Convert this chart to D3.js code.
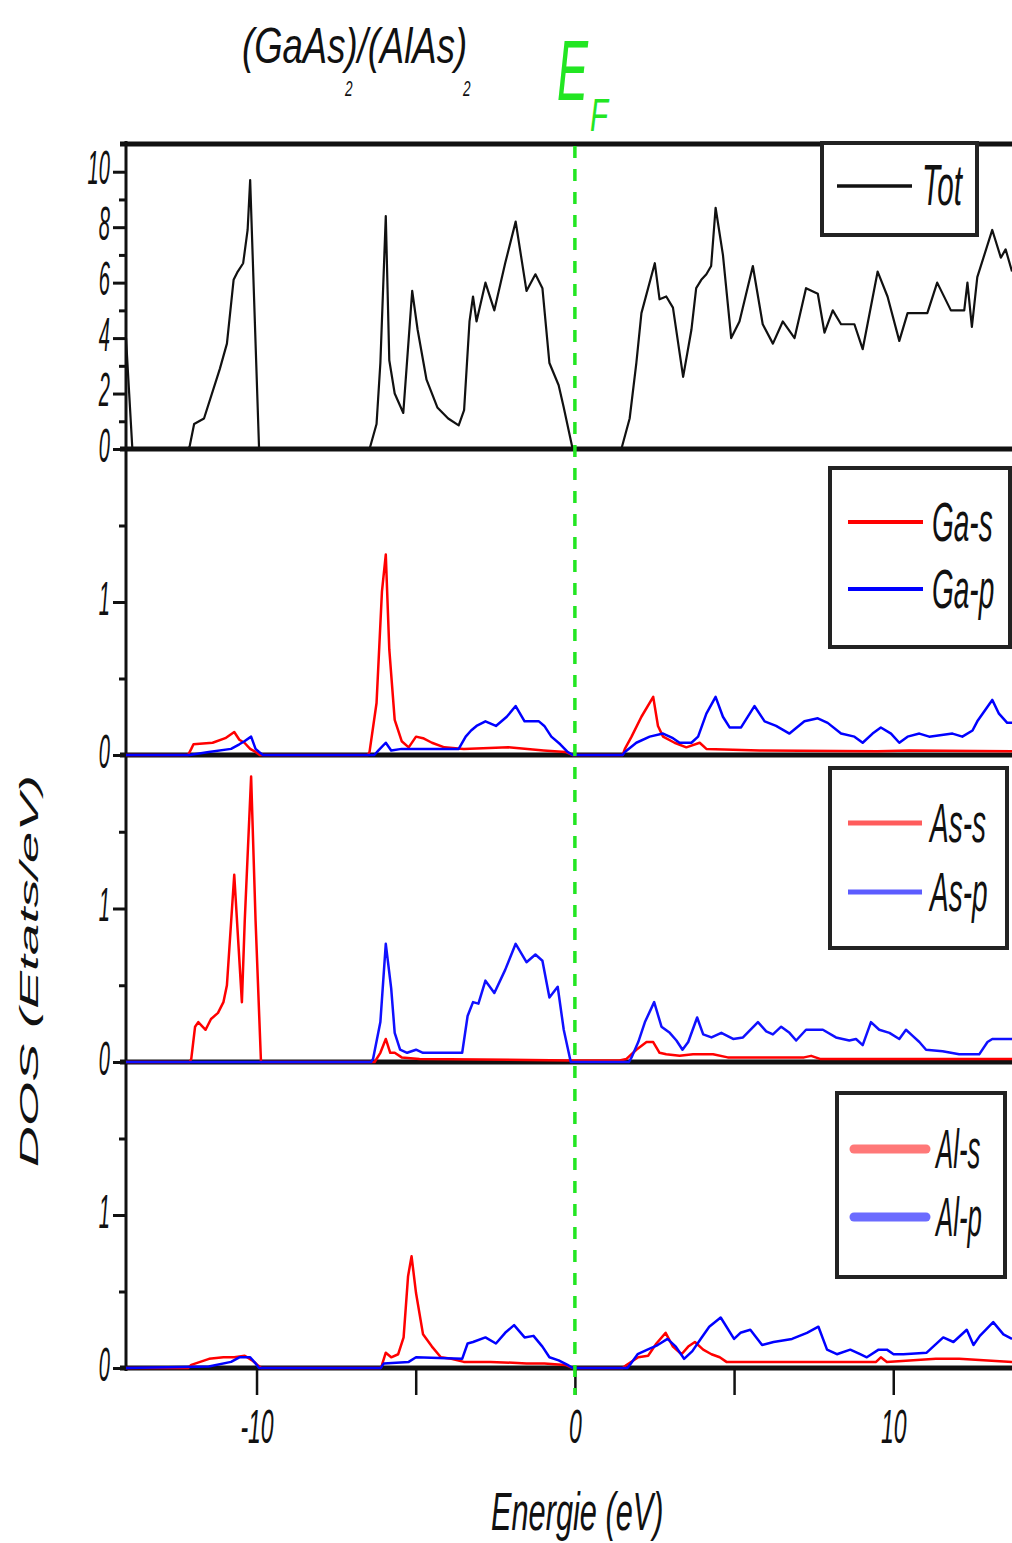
<!DOCTYPE html>
<html>
<head>
<meta charset="utf-8">
<script src="https://cdn.jsdelivr.net/npm/d3@7"></script>
<style>
  body { margin: 0; background: #fff; }
  svg { display: block; }
  text { font-family: "Liberation Sans", Arial, sans-serif; font-style: italic; fill: #111; }
</style>
</head>
<body>
<svg id="chart" width="1012" height="1543"></svg>
<script>
// ---- data: [energy (eV), DOS] ----
var totDOS = [[-14.1,4.0],[-14.0,2.0],[-13.9,0],[-12.15,0],[-12.1,0.1],[-11.96,0.9],[-11.65,1.1],[-11.15,2.9],[-10.93,3.8],[-10.72,6.1],[-10.59,6.4],[-10.42,6.7],[-10.28,7.9],[-10.2,9.7],[-10.03,3.8],[-9.92,0],
  [-6.45,0],[-6.23,0.9],[-6.11,3.1],[-5.94,8.4],[-5.83,3.2],[-5.66,2.0],[-5.39,1.3],[-5.11,5.7],[-4.94,4.3],[-4.66,2.5],[-4.32,1.5],[-3.98,1.1],[-3.65,0.85],[-3.48,1.4],[-3.31,4.6],[-3.2,5.5],[-3.09,4.6],[-2.81,6.0],[-2.53,5.0],[-2.19,6.7],[-1.86,8.2],[-1.52,5.7],[-1.24,6.3],[-1.02,5.8],[-0.8,3.1],[-0.51,2.3],[-0.35,1.5],[-0.07,0],
  [1.46,0],[1.72,1.1],[1.93,3.1],[2.09,4.9],[2.51,6.7],[2.66,5.4],[2.87,5.5],[3.08,5.1],[3.4,2.6],[3.66,4.3],[3.81,5.8],[3.97,6.1],[4.13,6.3],[4.28,6.6],[4.42,8.7],[4.65,7.0],[4.91,4.0],[5.17,4.6],[5.59,6.6],[5.9,4.5],[6.22,3.8],[6.53,4.6],[6.9,4.0],[7.26,5.8],[7.63,5.6],[7.84,4.2],[8.1,5.0],[8.36,4.5],[8.78,4.5],[9.04,3.6],[9.51,6.4],[9.82,5.5],[10.19,3.9],[10.45,4.9],[11.07,4.9],[11.38,6.0],[11.81,5.0],[12.23,5.0],[12.33,6.0],[12.47,4.4],[12.64,6.2],[13.11,7.9],[13.38,6.9],[13.53,7.2],[13.73,6.4]];

var gaS = [[-14.1,0],[-12.15,0],[-12.05,0.04],[-11.98,0.07],[-11.38,0.08],[-10.98,0.11],[-10.7,0.15],[-10.54,0.1],[-10.38,0.08],[-10.2,0.04],[-10.03,0.02],[-9.9,0],
  [-6.5,0],[-6.45,0.02],[-6.23,0.34],[-6.06,1.07],[-5.94,1.31],[-5.83,0.69],[-5.66,0.23],[-5.44,0.09],[-5.22,0.05],[-4.99,0.12],[-4.77,0.11],[-4.49,0.08],[-4.1,0.05],[-3.49,0.04],[-2.09,0.05],[-0.98,0.03],[-0.3,0.02],[-0.07,0],
  [1.5,0],[1.57,0.04],[1.78,0.12],[2.09,0.25],[2.46,0.38],[2.61,0.19],[2.77,0.12],[3.13,0.08],[3.5,0.05],[3.92,0.08],[4.13,0.04],[5.8,0.03],[9.5,0.025],[10.5,0.03],[13.73,0.025]];

var gaP = [[-14.1,0],[-12.1,0],[-11.5,0.02],[-10.8,0.04],[-10.54,0.07],[-10.38,0.09],[-10.17,0.12],[-10.03,0.04],[-9.92,0.02],[-9.8,0],
  [-6.3,0],[-6.17,0.03],[-5.94,0.08],[-5.77,0.03],[-5.44,0.04],[-5.05,0.04],[-3.65,0.04],[-3.43,0.12],[-3.26,0.16],[-3.09,0.19],[-2.81,0.22],[-2.48,0.19],[-2.14,0.25],[-1.86,0.32],[-1.58,0.22],[-1.13,0.22],[-0.96,0.19],[-0.74,0.12],[-0.46,0.07],[-0.23,0.02],[-0.07,0],
  [1.5,0],[1.57,0.02],[1.93,0.08],[2.35,0.12],[2.77,0.14],[3.08,0.11],[3.29,0.08],[3.66,0.08],[3.87,0.12],[4.13,0.27],[4.42,0.38],[4.65,0.25],[4.86,0.18],[5.22,0.18],[5.64,0.32],[5.96,0.22],[6.32,0.19],[6.74,0.14],[7.21,0.22],[7.63,0.24],[7.94,0.21],[8.36,0.14],[8.78,0.12],[9.04,0.08],[9.35,0.14],[9.61,0.18],[9.93,0.14],[10.19,0.08],[10.45,0.12],[10.82,0.14],[11.13,0.12],[11.86,0.14],[12.17,0.12],[12.49,0.16],[12.64,0.22],[13.11,0.36],[13.32,0.27],[13.58,0.21],[13.73,0.21]];

var asS = [[-14.1,0],[-12.1,0],[-12.05,0.02],[-11.93,0.23],[-11.83,0.26],[-11.6,0.21],[-11.43,0.28],[-11.21,0.32],[-11.04,0.39],[-10.93,0.5],[-10.7,1.22],[-10.46,0.39],[-10.37,0.92],[-10.17,1.86],[-10.03,0.92],[-9.86,0],
  [-6.29,0],[-6.11,0.06],[-5.94,0.15],[-5.8,0.06],[-5.66,0.06],[-5.44,0.03],[-4.88,0.02],[-0.1,0.01],
  [1.4,0.01],[1.62,0.02],[1.93,0.08],[2.25,0.13],[2.46,0.13],[2.66,0.06],[2.87,0.05],[3.29,0.04],[3.71,0.05],[4.34,0.05],[4.8,0.03],[7.2,0.03],[7.42,0.04],[7.7,0.02],[13.73,0.02]];

var asP = [[-14.1,0],[-6.4,0],[-6.34,0.02],[-6.11,0.26],[-5.94,0.77],[-5.77,0.48],[-5.66,0.19],[-5.49,0.08],[-5.27,0.06],[-4.99,0.08],[-4.77,0.06],[-4.32,0.06],[-3.54,0.06],[-3.37,0.3],[-3.2,0.39],[-3.03,0.38],[-2.81,0.53],[-2.53,0.45],[-2.19,0.6],[-1.86,0.77],[-1.52,0.65],[-1.24,0.7],[-1.02,0.66],[-0.8,0.42],[-0.54,0.49],[-0.35,0.21],[-0.13,0],
  [1.7,0],[1.78,0.03],[1.99,0.13],[2.2,0.26],[2.49,0.39],[2.72,0.23],[2.98,0.19],[3.19,0.14],[3.38,0.08],[3.56,0.13],[3.84,0.29],[4.03,0.18],[4.29,0.16],[4.6,0.19],[4.97,0.15],[5.28,0.16],[5.75,0.26],[6.01,0.2],[6.22,0.18],[6.48,0.23],[6.74,0.19],[6.95,0.14],[7.26,0.21],[7.79,0.21],[8.2,0.16],[8.62,0.14],[8.83,0.15],[9.04,0.11],[9.3,0.26],[9.56,0.21],[9.88,0.19],[10.19,0.15],[10.4,0.21],[10.61,0.17],[10.82,0.13],[11.03,0.08],[11.55,0.07],[12.07,0.05],[12.7,0.05],[12.96,0.13],[13.11,0.15],[13.43,0.15],[13.73,0.15]];

var alS = [[-14.1,0],[-12.15,0],[-12.05,0.02],[-11.49,0.06],[-11.04,0.07],[-10.7,0.07],[-10.37,0.08],[-10.14,0.05],[-9.97,0.02],[-9.85,0],
  [-6.1,0],[-6.06,0.02],[-5.94,0.1],[-5.77,0.07],[-5.55,0.09],[-5.38,0.2],[-5.24,0.6],[-5.13,0.73],[-4.99,0.49],[-4.77,0.22],[-4.49,0.14],[-4.21,0.07],[-3.88,0.06],[-3.49,0.04],[-2.65,0.04],[-1.52,0.03],[-0.96,0.03],[-0.3,0.02],[-0.07,0],
  [1.5,0],[1.62,0.02],[1.99,0.07],[2.3,0.08],[2.56,0.16],[2.85,0.23],[3.08,0.14],[3.35,0.09],[3.56,0.14],[3.77,0.17],[4.03,0.12],[4.29,0.09],[4.55,0.07],[4.76,0.04],[9.46,0.04],[9.61,0.07],[9.8,0.04],[11.34,0.06],[12.07,0.06],[13.73,0.04]];

var alP = [[-14.1,0],[-11.5,0.01],[-10.8,0.04],[-10.54,0.07],[-10.2,0.07],[-10.03,0.03],[-9.92,0],
  [-6.1,0],[-6.0,0.03],[-5.22,0.04],[-4.99,0.07],[-3.54,0.06],[-3.37,0.16],[-3.2,0.17],[-2.81,0.2],[-2.48,0.16],[-2.19,0.23],[-1.91,0.28],[-1.58,0.2],[-1.3,0.21],[-1.02,0.14],[-0.8,0.07],[-0.51,0.05],[-0.23,0.02],[-0.07,0],
  [1.65,0],[1.76,0.03],[1.97,0.09],[2.28,0.12],[2.6,0.15],[2.91,0.19],[3.17,0.14],[3.43,0.06],[3.69,0.11],[3.95,0.19],[4.22,0.27],[4.58,0.33],[5.0,0.19],[5.2,0.23],[5.51,0.25],[5.88,0.15],[6.24,0.17],[6.82,0.19],[7.29,0.23],[7.65,0.27],[7.92,0.12],[8.23,0.09],[8.65,0.12],[8.96,0.09],[9.17,0.07],[9.54,0.12],[9.8,0.12],[10.01,0.09],[10.32,0.09],[11.05,0.1],[11.57,0.2],[11.89,0.17],[12.31,0.25],[12.52,0.15],[12.72,0.21],[13.14,0.3],[13.46,0.22],[13.73,0.19]];

var energyRange = [-14.1, 13.73];
var panelMax = [11, 2, 2, 2];
var majorTicks = [[0,2,4,6,8,10], [0,1], [0,1], [0,1]];
var minorTicks = [[1,3,5,7,9], [0.5,1.5], [0.5,1.5], [0.5,1.5]];
var energyTicks = [-10, -5, 0, 5, 10];
var legendNames = [['Tot'], ['Ga-s','Ga-p'], ['As-s','As-p'], ['Al-s','Al-p']];

// ---- layout ----
var left = 126, right = 1012;
var panelTop = [144, 449, 755, 1062];
var panelBottom = [449, 755, 1062, 1368];

var svg = d3.select('#chart');
var x = d3.scaleLinear().domain(energyRange).range([left, right]);

// squeeze text horizontally like the original (stretched) figure
function squeezed(g, txt, px, py, size, sx, anchor) {
  return g.append('text')
    .attr('transform', 'translate(' + px + ',' + py + ') scale(' + sx + ',1)')
    .attr('font-size', size)
    .attr('text-anchor', anchor || 'start')
    .text(txt);
}

var series = [
  [{data: totDOS, color: '#111', w: 2.2}],
  [{data: gaS, color: '#ff0000', w: 2.5}, {data: gaP, color: '#0000ff', w: 2.5}],
  [{data: asS, color: '#ff0000', w: 2.5}, {data: asP, color: '#1010ff', w: 2.5}],
  [{data: alS, color: '#ff0000', w: 2.5}, {data: alP, color: '#0000ff', w: 2.5}]
];

var legendBox = [
  {x: 822, y: 143, w: 155, h: 92, lx: [837, 912], ly: [186], tx: 922, fs: 58, sx: 0.51, lw: 3.5, cols: ['#111']},
  {x: 830, y: 468, w: 180, h: 179, lx: [848, 923], ly: [522, 589], tx: 932, fs: 56, sx: 0.5, lw: 4, cols: ['#ff0000', '#0000ff']},
  {x: 830, y: 768, w: 177, h: 180, lx: [848, 922], ly: [823, 892], tx: 930, fs: 56, sx: 0.5, lw: 5, cols: ['#ff5c5c', '#5c5cff']},
  {x: 837, y: 1093, w: 168, h: 184, lx: [854, 926], ly: [1149, 1217], tx: 936, fs: 56, sx: 0.46, lw: 9, cols: ['#ff7878', '#6b6bff']}
];

var yScales = [];

panelTop.forEach(function(top, i) {
  var y = d3.scaleLinear().domain([0, panelMax[i]]).range([panelBottom[i], top]);
  yScales.push(y);

  var major = svg.append('g').attr('transform', 'translate(' + left + ',0)')
    .call(d3.axisLeft(y).tickValues(majorTicks[i]).tickSize(13).tickSizeOuter(0)
      .tickFormat(d3.format('d')));
  major.select('.domain').remove();
  major.selectAll('line').attr('stroke', '#111').attr('stroke-width', 3);
  major.selectAll('text')
    .attr('x', null).attr('dy', null)
    .attr('font-size', 48)
    .attr('text-anchor', 'end')
    .attr('transform', 'translate(-16,12) scale(0.42,1)');

  var minor = svg.append('g').attr('transform', 'translate(' + left + ',0)')
    .call(d3.axisLeft(y).tickValues(minorTicks[i]).tickSize(7).tickSizeOuter(0).tickFormat(''));
  minor.select('.domain').remove();
  minor.selectAll('line').attr('stroke', '#111').attr('stroke-width', 3);
});

// frame lines
svg.selectAll('.hline').data(panelTop.concat([panelBottom[3]]))
  .enter().append('line').attr('class', 'hline')
  .attr('x1', left - 6).attr('x2', right)
  .attr('y1', function(d) { return d; }).attr('y2', function(d) { return d; })
  .attr('stroke', '#111').attr('stroke-width', 5);

svg.append('line')
  .attr('x1', left).attr('x2', left).attr('y1', 141).attr('y2', 1371)
  .attr('stroke', '#111').attr('stroke-width', 3);

// energy axis
var xAx = svg.append('g').attr('transform', 'translate(0,' + panelBottom[3] + ')')
  .call(d3.axisBottom(x).tickValues(energyTicks).tickSize(27).tickSizeOuter(0)
    .tickFormat(function(d) { return d % 10 === 0 ? String(d) : ''; }));
xAx.select('.domain').remove();
xAx.selectAll('line').attr('stroke', '#111').attr('stroke-width', 2.5);
xAx.selectAll('text')
  .attr('y', null).attr('dy', null)
  .attr('font-size', 48)
  .attr('transform', 'translate(0,75) scale(0.48,1)');

// curves
series.forEach(function(list, i) {
  var y = yScales[i];
  var line = d3.line().x(function(d) { return x(d[0]); }).y(function(d) { return y(d[1]); });
  list.forEach(function(s) {
    svg.append('path').datum(s.data)
      .attr('d', line)
      .attr('fill', 'none')
      .attr('stroke', s.color)
      .attr('stroke-width', s.w)
      .attr('stroke-linejoin', 'round');
  });
});

// Fermi level
svg.append('line')
  .attr('x1', x(0)).attr('x2', x(0)).attr('y1', 146).attr('y2', 1395)
  .attr('stroke', '#22e622').attr('stroke-width', 3.5)
  .attr('stroke-dasharray', '12,11');

// legends
legendBox.forEach(function(b, i) {
  var g = svg.append('g');
  g.append('rect').attr('x', b.x).attr('y', b.y).attr('width', b.w).attr('height', b.h)
    .attr('fill', '#fff').attr('stroke', '#222').attr('stroke-width', 4);
  legendNames[i].forEach(function(name, k) {
    g.append('line')
      .attr('x1', b.lx[0]).attr('x2', b.lx[1]).attr('y1', b.ly[k]).attr('y2', b.ly[k])
      .attr('stroke', b.cols[k]).attr('stroke-width', b.lw)
      .attr('stroke-linecap', i === 3 ? 'round' : 'butt');
    squeezed(g, name, b.tx, b.ly[k] + 19, b.fs, b.sx);
  });
});

// titles
squeezed(svg, '(GaAs)/(AlAs)', 242, 63, 50, 0.73);
squeezed(svg, '2', 345, 96, 22, 0.62);
squeezed(svg, '2', 463, 96, 22, 0.62);
squeezed(svg, 'E', 557, 100, 86, 0.54).style('fill', '#22e622');
squeezed(svg, 'F', 590, 131, 46, 0.64).style('fill', '#22e622');

squeezed(svg, 'Energie (eV)', 491, 1530, 53, 0.58);

svg.append('text')
  .attr('transform', 'translate(38,971) scale(0.45,1) rotate(-90)')
  .attr('font-size', 57)
  .attr('text-anchor', 'middle')
  .text('DOS (Etats/eV)');
</script>
</body>
</html>
